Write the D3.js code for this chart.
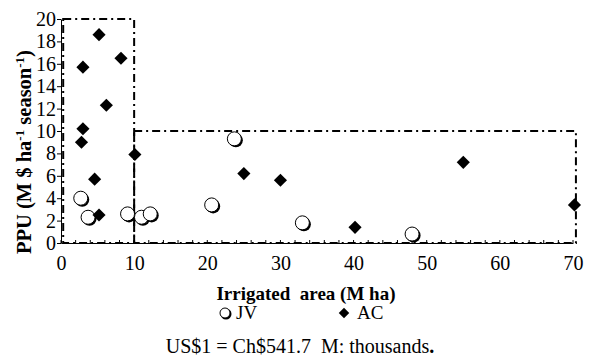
<!DOCTYPE html>
<html>
<head>
<meta charset="utf-8">
<script src="https://cdn.jsdelivr.net/npm/d3@7"></script>
<style>
  body { margin: 0; background: #fff; }
</style>
</head>
<body>
<div id="chart"></div>
<script>
// data
const jvArea = [2.7, 3.7, 9.1, 11.0, 12.2, 20.6, 23.7, 33.0, 48.0];
const jvPPU  = [4.0, 2.3, 2.6, 2.3, 2.6, 3.4, 9.3, 1.8, 0.8];
const acArea = [3.0, 5.2, 8.2, 6.2, 3.0, 2.8, 10.1, 4.6, 5.2, 25.0, 30.0, 40.2, 55.0, 70.2];
const acPPU  = [15.7, 18.6, 16.5, 12.3, 10.2, 9.0, 7.9, 5.7, 2.5, 6.2, 5.6, 1.4, 7.2, 3.4];
const xTicks = [0, 10, 20, 30, 40, 50, 60, 70];
const yTicks = [0, 2, 4, 6, 8, 10, 12, 14, 16, 18, 20];
// the two boxes: [x0, x1, y0, y1]
const boxes = [[0.3, 10, 0, 20], [10, 70.4, 0, 10]];

const font = "'Liberation Serif', 'Times New Roman', serif";
const margin = {top: 19, right: 18, bottom: 116, left: 61};
const width = 591 - margin.left - margin.right;
const height = 359 - margin.top - margin.bottom;

const svg = d3.select("#chart").append("svg")
  .attr("width", 591)
  .attr("height", 359)
  .attr("font-family", font);

const g = svg.append("g")
  .attr("transform", `translate(${margin.left},${margin.top})`);

const x = d3.scaleLinear().domain([0, 70]).range([0, width]);
const y = d3.scaleLinear().domain([0, 20]).range([height, 0]);

// axes
const xAxis = g.append("g")
  .attr("transform", `translate(0,${height})`)
  .call(d3.axisBottom(x).tickValues(xTicks).tickSize(0).tickPadding(13));
xAxis.attr("font-family", font).attr("font-size", 20);
xAxis.select(".domain").attr("stroke", "#000");

// small upward ticks on x axis
g.append("g").selectAll("line")
  .data(d3.range(0, 71, 2))
  .join("line")
  .attr("x1", d => x(d)).attr("x2", d => x(d))
  .attr("y1", height).attr("y2", height - 3)
  .attr("stroke", "#000");

const yAxis = g.append("g")
  .call(d3.axisLeft(y).tickValues(yTicks).tickSize(4).tickPadding(1).tickSizeOuter(0));
yAxis.attr("font-family", font).attr("font-size", 20);
yAxis.select(".domain").attr("stroke", "#000");

// dash-dot boxes
const dash = "8,4,2,4";
boxes.forEach(b => {
  g.append("rect")
    .attr("x", x(b[0]))
    .attr("y", y(b[3]))
    .attr("width", x(b[1]) - x(b[0]))
    .attr("height", y(b[2]) - y(b[3]))
    .attr("fill", "none")
    .attr("stroke", "#000")
    .attr("stroke-width", 2)
    .attr("stroke-dasharray", dash);
});

// JV circles with a shadow
const jv = jvArea.map((d, i) => ({x: d, y: jvPPU[i]}));
const ac = acArea.map((d, i) => ({x: d, y: acPPU[i]}));

g.append("g").selectAll("circle")
  .data(jv)
  .join("circle")
  .attr("cx", d => x(d.x) + 1.5)
  .attr("cy", d => y(d.y) + 1.5)
  .attr("r", 7)
  .attr("fill", "#000");
g.append("g").selectAll("circle")
  .data(jv)
  .join("circle")
  .attr("cx", d => x(d.x))
  .attr("cy", d => y(d.y))
  .attr("r", 7)
  .attr("fill", "#fff")
  .attr("stroke", "#000")
  .attr("stroke-width", 1);

// AC diamonds
const diamond = d3.symbol().type(d3.symbolDiamond2).size(110);
g.append("g").selectAll("path")
  .data(ac)
  .join("path")
  .attr("d", diamond)
  .attr("transform", d => `translate(${x(d.x)},${y(d.y)})`)
  .attr("fill", "#000");

// axis titles
g.append("text")
  .attr("x", 245)
  .attr("y", height + 57)
  .attr("text-anchor", "middle")
  .attr("font-size", 19)
  .attr("font-weight", "bold")
  .style("white-space", "pre")
  .text("Irrigated  area (M ha)");

const yl = svg.append("text")
  .attr("transform", "translate(31,152) rotate(-90)")
  .attr("text-anchor", "middle")
  .attr("font-size", 20.5)
  .attr("font-weight", "bold");
yl.append("tspan").text("PPU (M $ ha");
yl.append("tspan").attr("dy", -7).attr("font-size", 13).text("-1");
yl.append("tspan").attr("dy", 7).text(" season");
yl.append("tspan").attr("dy", -7).attr("font-size", 13).text("-1");
yl.append("tspan").attr("dy", 7).text(")");

// legend
const leg = svg.append("g");
leg.append("circle").attr("cx", 226).attr("cy", 314).attr("r", 5.5)
  .attr("fill", "#000");
leg.append("circle").attr("cx", 225).attr("cy", 313).attr("r", 5)
  .attr("fill", "#fff").attr("stroke", "#000");
leg.append("text").attr("x", 236).attr("y", 319).attr("font-size", 19).text("JV");
leg.append("path").attr("d", d3.symbol().type(d3.symbolDiamond2).size(70))
  .attr("transform", "translate(344,313)");
leg.append("text").attr("x", 357).attr("y", 319).attr("font-size", 19).text("AC");

// footnote
const foot = svg.append("text")
  .attr("x", 300)
  .attr("y", 353)
  .attr("text-anchor", "middle")
  .attr("font-size", 20)
  .style("white-space", "pre");
foot.append("tspan").text("US$1 = Ch$541.7  M: thousands");
foot.append("tspan").attr("font-weight", "bold").text(".");
</script>
</body>
</html>
